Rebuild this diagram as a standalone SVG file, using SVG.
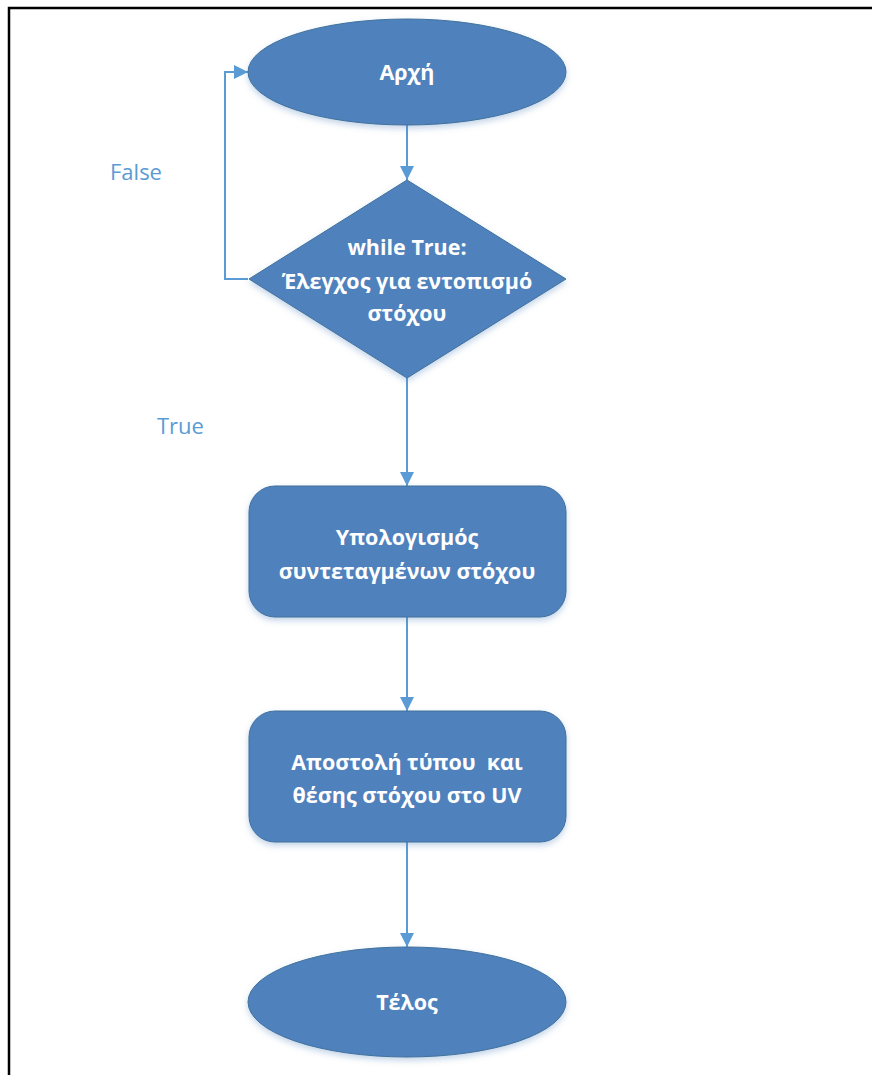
<svg xmlns="http://www.w3.org/2000/svg" width="872" height="1075" viewBox="0 0 872 1075">
  <defs>
    <style>
      .shape { fill: #4F81BD; stroke: #41719C; stroke-width: 1; filter: url(#shadow); }
      .label { font-family: "Open Sans", "Noto Sans", "DejaVu Sans", sans-serif; font-weight: bold; font-size: 21.5px; fill: #FFFFFF; text-anchor: middle; }
      .edge { fill: none; stroke: #5B9BD5; stroke-width: 2; }
      .edge-label { font-family: "Open Sans", "Noto Sans", "DejaVu Sans", sans-serif; font-size: 22px; fill: #5B9BD5; }
    </style>
    <filter id="shadow" x="-10%" y="-10%" width="120%" height="130%">
      <feDropShadow dx="0" dy="3" stdDeviation="3" flood-color="#4F81BD" flood-opacity="0.35"/>
    </filter>
    <marker id="arrow" viewBox="0 0 14 14" refX="14" refY="7" markerWidth="14" markerHeight="14" orient="auto" markerUnits="userSpaceOnUse">
      <path d="M0,0 L14,7 L0,14 Z" fill="#5B9BD5"/>
    </marker>
  </defs>

  <rect width="872" height="1075" fill="#FFFFFF"/>
  <!-- page frame -->
  <path d="M9,1075 V8 H872" fill="none" stroke="#000000" stroke-width="2.5"/>

  <g id="connectors">
    <line class="edge" x1="407" y1="125" x2="407" y2="180" marker-end="url(#arrow)"/>
    <path class="edge" d="M248,279 H225 V72 H248" marker-end="url(#arrow)"/>
    <line class="edge" x1="407" y1="378" x2="407" y2="486" marker-end="url(#arrow)"/>
    <line class="edge" x1="407" y1="617" x2="407" y2="711" marker-end="url(#arrow)"/>
    <line class="edge" x1="407" y1="842" x2="407" y2="947" marker-end="url(#arrow)"/>
    <text class="edge-label" x="110" y="180">False</text>
    <text class="edge-label" x="157" y="434">True</text>
  </g>

  <g id="start">
    <ellipse class="shape" cx="407" cy="72" rx="159" ry="53"/>
    <text class="label" x="407" y="80">Αρχή</text>
  </g>

  <g id="decision">
    <polygon class="shape" points="407,180 566,279 407,378 249,279"/>
    <text class="label" x="407" y="255">while True:</text>
    <text class="label" x="407" y="289">Έλεγχος για εντοπισμό</text>
    <text class="label" x="407" y="321">στόχου</text>
  </g>

  <g id="compute">
    <rect class="shape" x="249" y="486" width="317" height="131" rx="26" ry="26"/>
    <text class="label" x="407" y="545">Υπολογισμός</text>
    <text class="label" x="407" y="579">συντεταγμένων στόχου</text>
  </g>

  <g id="send">
    <rect class="shape" x="249" y="711" width="317" height="131" rx="26" ry="26"/>
    <text class="label" x="407" y="770" xml:space="preserve">Αποστολή τύπου  και</text>
    <text class="label" x="407" y="803">θέσης στόχου στο UV</text>
  </g>

  <g id="end">
    <ellipse class="shape" cx="407" cy="1002" rx="159" ry="55"/>
    <text class="label" x="407" y="1010">Τέλος</text>
  </g>
</svg>
